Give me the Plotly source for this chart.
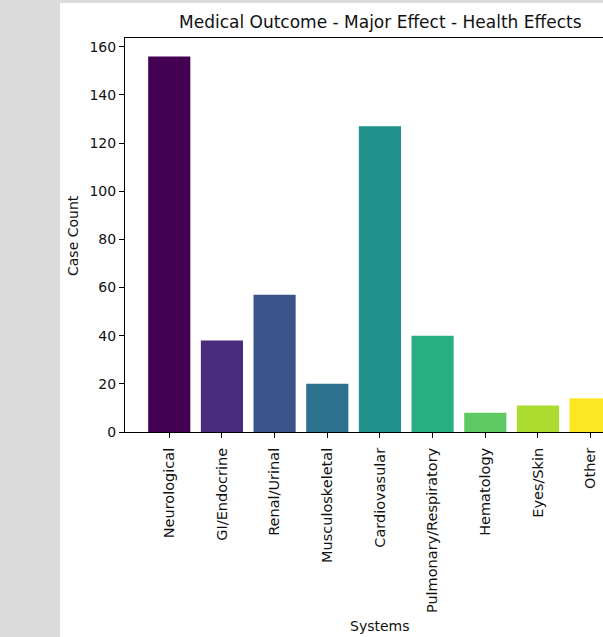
import plotly.graph_objects as go

systems = ["Neurological", "GI/Endocrine", "Renal/Urinal", "Musculoskeletal",
           "Cardiovasular", "Pulmonary/Respiratory", "Hematology", "Eyes/Skin", "Other"]
case_counts = [156, 38, 57, 20, 127, 40, 8, 11, 14]
bar_colors = ["#440154", "#472d7b", "#3b528b", "#2c728e", "#21918c",
              "#28ae80", "#5ec962", "#addc30", "#fde725"]
y_ticks = [0, 20, 40, 60, 80, 100, 120, 140, 160]

W, H = 603, 637
FONT = "DejaVu Sans"

fig = go.Figure()
fig.add_trace(go.Bar(
    x=list(range(len(systems))),
    y=case_counts,
    width=0.8,
    marker=dict(color=bar_colors, line=dict(width=0)),
    hoverinfo="skip",
))

# plot area in pixels
ax_l, ax_t, ax_b = 125, 37.7, 432
fig.update_layout(
    template="none",
    width=W, height=H,
    autosize=False,
    margin=dict(l=0, r=0, t=0, b=0, pad=0),
    paper_bgcolor="#dbdbdb",
    plot_bgcolor="white",
    showlegend=False,
    font=dict(family=FONT, size=14, color="black"),
    shapes=[dict(type="rect", xref="paper", yref="paper", x0=60 / W, x1=1,
                 y0=0, y1=1 - 3 / H, fillcolor="white", line=dict(width=0),
                 layer="below")],
    xaxis=dict(
        domain=[ax_l / W, 1],
        range=[-0.84, 8.235],
        automargin=False,
        tickmode="array",
        tickvals=list(range(len(systems))),
        ticktext=systems,
        tickangle=-90,
        ticks="outside", ticklen=5, tickwidth=1, tickcolor="black",
        ticklabelstandoff=4,
        showline=True, linecolor="black", linewidth=1, mirror=True,
        showgrid=False, zeroline=False,
        tickfont=dict(family=FONT, size=14.5, color="#111111"),
    ),
    yaxis=dict(
        domain=[(H - ax_b) / H, (H - ax_t) / H],
        range=[0, 163.8],
        automargin=False,
        tickmode="array",
        tickvals=y_ticks,
        ticks="outside", ticklen=5, tickwidth=1, tickcolor="black",
        showline=True, linecolor="black", linewidth=1,
        showgrid=False, zeroline=False,
        tickfont=dict(family=FONT, size=14, color="#111111"),
    ),
    annotations=[
        dict(text="Medical Outcome - Major Effect - Health Effects",
             xref="paper", yref="paper", x=380 / W, y=1 - 22 / H,
             xanchor="center", yanchor="middle", showarrow=False,
             font=dict(family=FONT, size=17, color="#111111")),
        dict(text="Case Count", xref="paper", yref="paper",
             x=73 / W, y=1 - 236 / H, textangle=-90,
             xanchor="center", yanchor="middle", showarrow=False,
             font=dict(family=FONT, size=14, color="#111111")),
        dict(text="Systems", xref="paper", yref="paper",
             x=380 / W, y=1 - 626 / H,
             xanchor="center", yanchor="middle", showarrow=False,
             font=dict(family=FONT, size=14, color="#111111")),
    ],
)

fig.write_html(
    "out.html",
    config={"displayModeBar": False, "responsive": False},
    post_script="document.body.style.margin='0';document.body.style.overflow='hidden';",
)
